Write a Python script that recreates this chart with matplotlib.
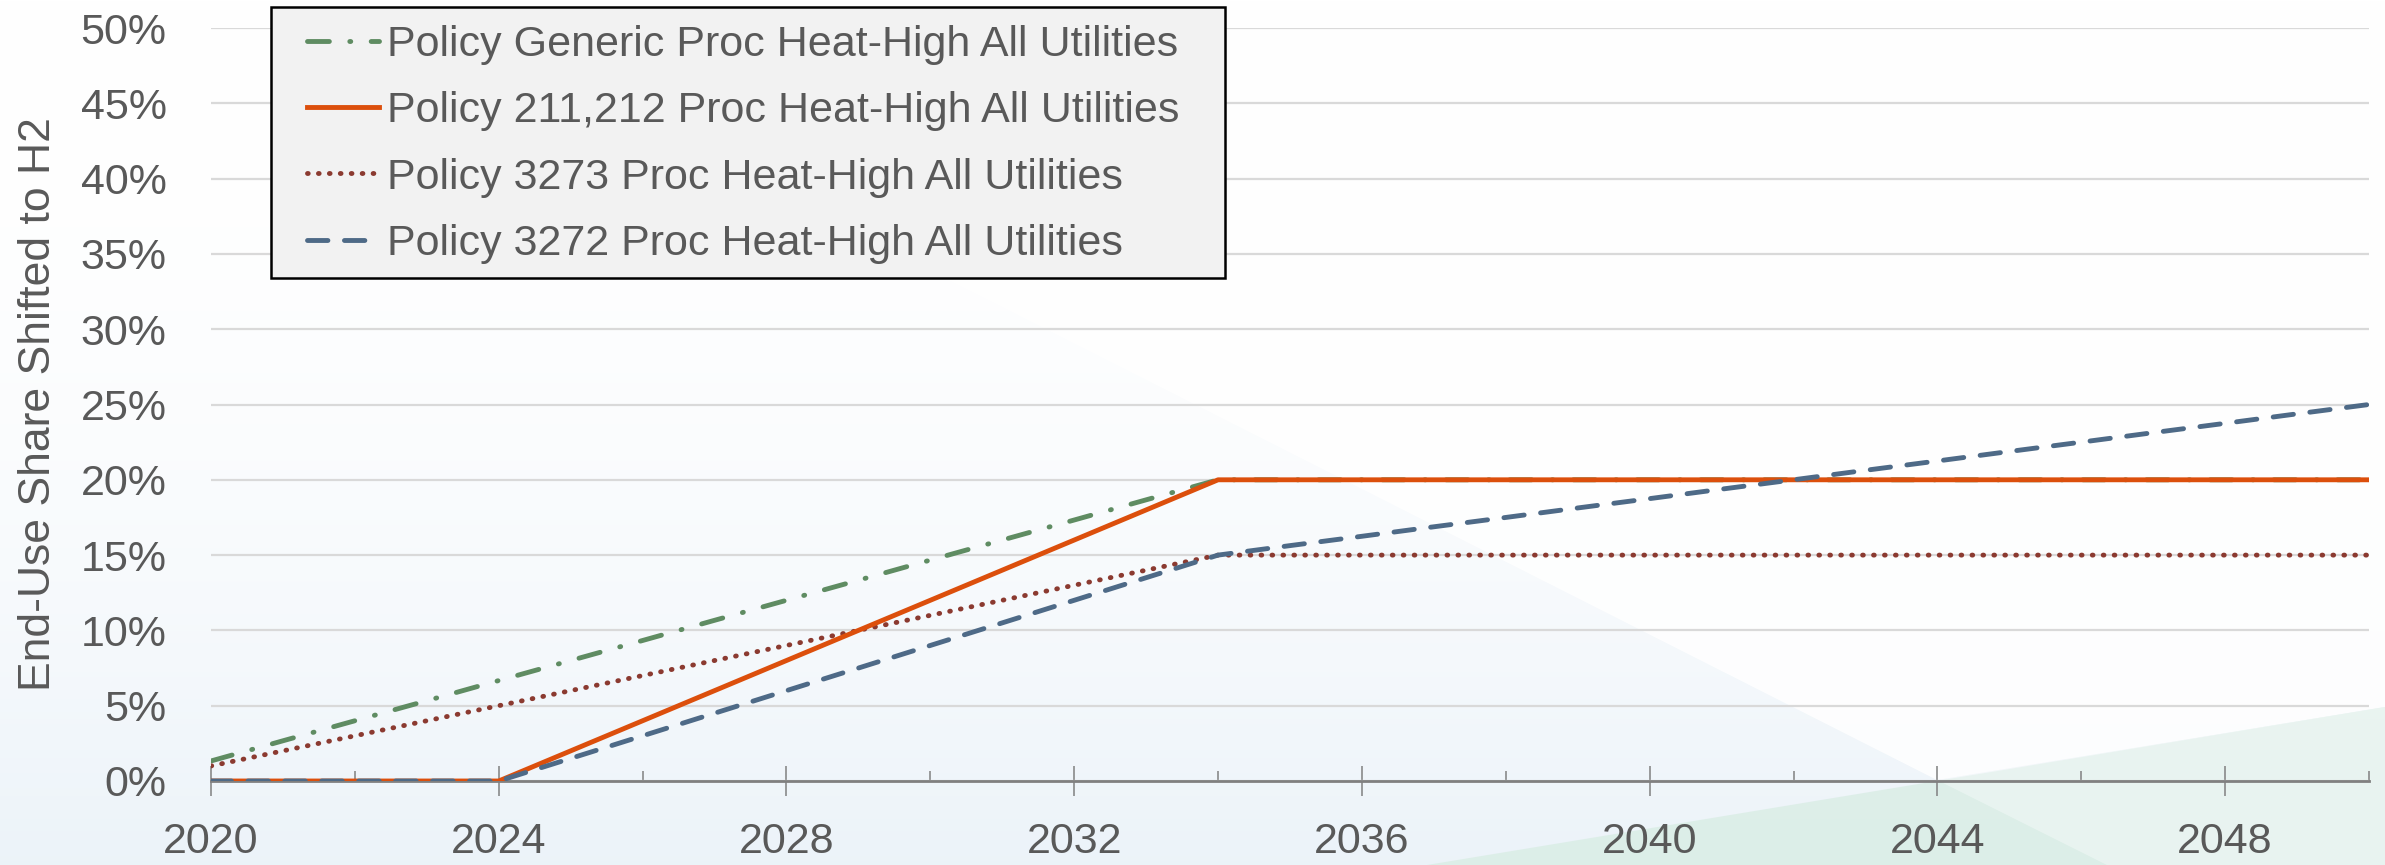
import matplotlib
matplotlib.use("Agg")
import matplotlib.pyplot as plt
import numpy as np
from matplotlib.ticker import MultipleLocator, FuncFormatter
from matplotlib.patches import Polygon, Rectangle

# ---------------- data ----------------
years = list(range(2020, 2051))
generic = [1.33, 2.67, 4.0, 5.33, 6.67, 8.0, 9.33, 10.67, 12.0, 13.33, 14.67, 16.0, 17.33, 18.67, 20.0,
           20, 20, 20, 20, 20, 20, 20, 20, 20, 20, 20, 20, 20, 20, 20, 20]
p211 = [0, 0, 0, 0, 0, 2, 4, 6, 8, 10, 12, 14, 16, 18, 20,
        20, 20, 20, 20, 20, 20, 20, 20, 20, 20, 20, 20, 20, 20, 20, 20]
p3273 = [1, 2, 3, 4, 5, 6, 7, 8, 9, 10, 11, 12, 13, 14, 15,
         15, 15, 15, 15, 15, 15, 15, 15, 15, 15, 15, 15, 15, 15, 15, 15]
p3272 = [0, 0, 0, 0, 0, 1.5, 3, 4.5, 6, 7.5, 9, 10.5, 12, 13.5, 15,
         15.63, 16.25, 16.88, 17.5, 18.13, 18.75, 19.38, 20, 20.63, 21.25, 21.88, 22.5, 23.13, 23.75, 24.38, 25]
labels = ["Policy Generic Proc Heat-High All Utilities",
          "Policy 211,212 Proc Heat-High All Utilities",
          "Policy 3273 Proc Heat-High All Utilities",
          "Policy 3272 Proc Heat-High All Utilities"]
ylabel = "End-Use Share Shifted to H2"

FONT = ["Liberation Sans", "DejaVu Sans"]
plt.rcParams['font.family'] = FONT
TXT = "#595959"

W, H = 2385, 865
fig = plt.figure(figsize=(W / 100, H / 100), dpi=100)
fig.patch.set_facecolor("white")

# background decoration
bg = fig.add_axes([0, 0, 1, 1], zorder=-10)
bg.set_xlim(0, W)
bg.set_ylim(H, 0)
bg.axis("off")
grad = np.linspace(0, 1, 300)[:, None] ** 2.2
img = np.ones((300, 2, 3))
top = np.array([1.0, 1.0, 1.0])
bot = np.array([0.925, 0.953, 0.976])
img[:, :, :] = top + (bot - top) * grad[:, :, None]
bg.imshow(img, extent=[0, W, H, 0], aspect="auto", zorder=0)
bg.add_patch(Polygon([[396, 0], [W, 0], [W, 707], [1937, 780]],
                     closed=True, facecolor="white", edgecolor="none", zorder=1, alpha=0.85))
bg.add_patch(Polygon([[1427, H], [W, 707], [W, H]],
                     closed=True, facecolor="#d6ece2", edgecolor="none", zorder=2, alpha=0.7))
bg.add_patch(Polygon([[1937, 780], [W, 707], [W, H], [2107, H]],
                     closed=True, facecolor="white", edgecolor="none", zorder=3, alpha=0.35))

ax = fig.add_axes([211 / W, (H - 781) / H, (2369 - 211) / W, (781 - 28) / H])
ax.patch.set_alpha(0)

LW = 3.5
ax.plot(years, generic, color="#5f8c62", lw=LW, dashes=(4.5, 4.2, 0.2, 4.2),
        dash_capstyle="round", label=labels[0], zorder=3)
ax.plot(years, p211, color="#dc4f0c", lw=LW, label=labels[1], zorder=4)
ax.plot(years, p3273, color="#8b3a30", lw=LW, dashes=(0.15, 2.1), dash_capstyle="round",
        label=labels[2], zorder=3)
ax.plot(years, p3272, color="#4e6a87", lw=LW, dashes=(4.2, 3.4), dash_capstyle="round",
        label=labels[3], zorder=5)

ax.set_xlim(2020, 2050)
ax.set_ylim(0, 50)
ax.yaxis.set_major_locator(MultipleLocator(5))
ax.yaxis.set_major_formatter(FuncFormatter(lambda v, p: f"{v:.0f}%"))
ax.xaxis.set_major_locator(MultipleLocator(4))
ax.xaxis.set_minor_locator(MultipleLocator(2))

for s in ["top", "right", "left"]:
    ax.spines[s].set_visible(False)
ax.spines["bottom"].set_color("#808080")
ax.spines["bottom"].set_linewidth(2)
ax.spines["bottom"].set_zorder(2)

ax.grid(axis="y", color="#d9d9d9", lw=1.6, zorder=0)
ax.set_axisbelow(True)
ax.tick_params(axis="y", length=0, pad=32, labelsize=31, labelcolor=TXT)
ax.tick_params(axis="x", which="major", direction="inout", length=21, width=1.1, color="#808080",
               pad=19, labelsize=31, labelcolor=TXT)
ax.tick_params(axis="x", which="minor", direction="in", length=7.5, width=1.1, color="#808080")

ax.set_ylabel(ylabel, fontsize=32, color=TXT)
ax.yaxis.set_label_coords((59 - 211) / (2369 - 211), 0.5)

# legend frame (drawn separately to match the box geometry)
ax.add_patch(Rectangle((271 / W, (H - 278) / H), (1225 - 271) / W, (278 - 7) / H,
                       transform=fig.transFigure, facecolor="#f2f2f2", edgecolor="black",
                       linewidth=1.8, zorder=6, clip_on=False))
leg = ax.legend(loc="upper left", bbox_to_anchor=(307 / W, (H - 25) / H), bbox_transform=fig.transFigure,
                fontsize=31, frameon=False, handlelength=1.67, handletextpad=0.19,
                labelspacing=0.61, borderpad=0, borderaxespad=0)
leg.set_zorder(7)
for t in leg.get_texts():
    t.set_color(TXT)

fig.savefig("out.png", dpi=100)
